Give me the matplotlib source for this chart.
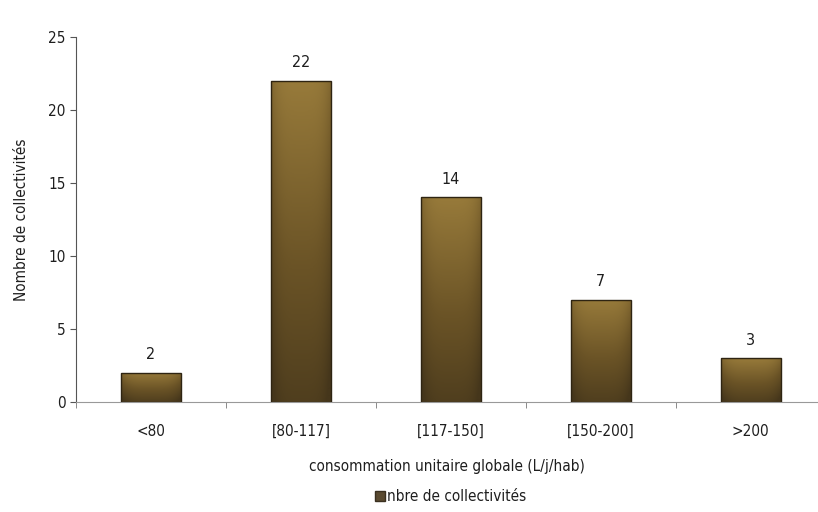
# Consommation unitaire globale - histogram of collectivites

import numpy as np
import matplotlib.pyplot as plt
from matplotlib.colors import LinearSegmentedColormap
from matplotlib.patches import Rectangle
from matplotlib.lines import Line2D

# Data
categories = ['<80', '[80-117]', '[117-150]', '[150-200]', '>200']
values = [2, 22, 14, 7, 3]
series_name = 'nbre de collectivités'

plt.rcParams['font.family'] = 'DejaVu Sans'
plt.rcParams['font.stretch'] = 'condensed'
txt = '#1e1e1e'

fig = plt.figure(figsize=(8.18, 5.12), dpi=100)
ax = fig.add_axes([0.093, 0.215, 0.907, 0.713])

x = np.arange(len(categories))
width = 0.4

# vertical gradient (golden top -> dark brown bottom) + darker sides
cmap = LinearSegmentedColormap.from_list('bar', ['#45361b', '#6a5326', '#977a3a'])
gy = np.linspace(0, 1, 100)[:, None]
gx = np.linspace(-1, 1, 60)[None, :]
shade = gy * 0.85 + 0.15 - 0.25 * gx ** 4
shade = np.clip(shade, 0, 1)

bars = ax.bar(x, values, width=width, color='none', edgecolor='#2e2412', linewidth=1.0, zorder=3)
for b, v in zip(bars, values):
    x0 = b.get_x()
    im = ax.imshow(shade, cmap=cmap, vmin=0, vmax=1, origin='lower', aspect='auto',
                   extent=[x0, x0 + width, 0, v], zorder=2, interpolation='bilinear')
    im.set_clip_path(Rectangle((x0, 0), width, v, transform=ax.transData))
    ax.text(b.get_x() + width / 2, v + 0.7, str(v), ha='center', va='bottom',
            fontsize=11.5, color=txt)

ax.set_xlim(-0.5, 4.45)
ax.set_ylim(0, 25)
ax.set_yticks([0, 5, 10, 15, 20, 25])
ax.set_xticks(x)
ax.set_xticklabels(categories, fontsize=11, color=txt)
ax.set_xticks(np.arange(-0.5, 4.5, 1), minor=True)
ax.tick_params(axis='x', which='major', length=0, pad=16)
ax.tick_params(axis='x', which='minor', length=4, direction='out', color='#777777')
ax.tick_params(axis='y', length=4, direction='out', color='#555555', labelsize=11,
               labelcolor=txt)

for s in ['top', 'right']:
    ax.spines[s].set_visible(False)
ax.spines['left'].set_color('#555555')
ax.spines['bottom'].set_color('#999999')

ax.set_xlabel('consommation unitaire globale (L/j/hab)', fontsize=11, color=txt, labelpad=14)
ax.set_ylabel('Nombre de collectivités', fontsize=11, color=txt, labelpad=14)

handle = Line2D([], [], marker='s', linestyle='none', markersize=7,
                markerfacecolor='#5a4a30', markeredgecolor='#3a3020')
fig.legend([handle], [series_name], loc='center', bbox_to_anchor=(0.55, 0.03),
           frameon=False, fontsize=11, handletextpad=0.1, handlelength=0.8,
           labelcolor=txt)

plt.savefig('out.png', dpi=100)
